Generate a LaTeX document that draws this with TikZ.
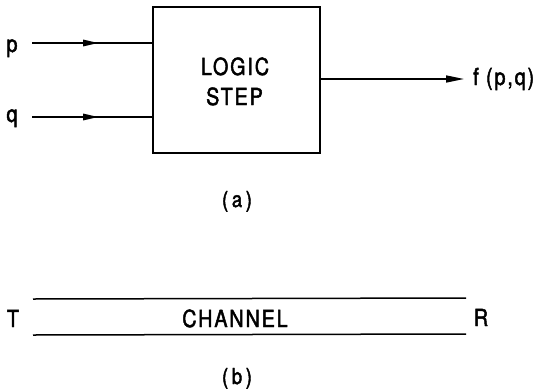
\documentclass[tikz,border=0pt]{standalone}
\usepackage{fontspec}
\setmainfont{TeX Gyre Heros}[LetterSpace=8, FakeStretch=0.84, FakeBold=2]
\usetikzlibrary{arrows.meta,decorations.markings}
\begin{document}
\begin{tikzpicture}[x=1pt,y=-1pt,
  wire/.style={line width=1.5pt},
  lbl/.style={font=\fontsize{23.5}{27}\selectfont, inner sep=0pt, anchor=base},
  sub/.style={font=\fontsize{22}{26}\selectfont, inner sep=0pt, anchor=base},
  tip/.style={-{Triangle[length=18pt,width=7pt]}},
  midtip/.style={postaction={decorate},decoration={markings,
     mark=at position 0.55 with {\arrow{Triangle[length=15pt,width=6.5pt]}}}}]
\useasboundingbox (0,0) rectangle (540,391);
% box
\node[draw, line width=1.5pt, minimum width=167pt, minimum height=146pt, inner sep=0pt] (box) at (236.5,80) {};
\node[lbl] (l1) at (235,75) {LOGIC};
\node[lbl] (l2) at (234.5,105) {STEP};
% inputs
\node[lbl] (p) at (12,52) {p};
\node[lbl] (q) at (12,122) {q};
\coordinate (ps) at (32,43);
\coordinate (qs) at (32,117);
\draw[wire, midtip] (ps) -- (ps -| box.west);
\draw[wire, midtip] (qs) -- (qs -| box.west);
% output
\node[lbl, anchor=base west] (f) at (473,85) {f (p,q)};
\coordinate (fe) at (464,79);
\draw[wire, tip] (box.east |- fe) -- (fe);
\node[sub] (a) at (237,207) {(\,a\,)};
% channel
\coordinate (c1) at (33,299);
\coordinate (c2) at (466,298);
\coordinate (c3) at (33,335);
\coordinate (c4) at (466,334);
\draw[wire] (c1) -- (c2);
\draw[wire] (c3) -- (c4);
\node[lbl] (T) at (13,327) {T};
\node[lbl] (R) at (481,326) {R};
\node[lbl] (ch) at (235,327) {CHANNEL};
\node[sub] (b) at (237,384) {(\,b\,)};
\end{tikzpicture}
\end{document}
